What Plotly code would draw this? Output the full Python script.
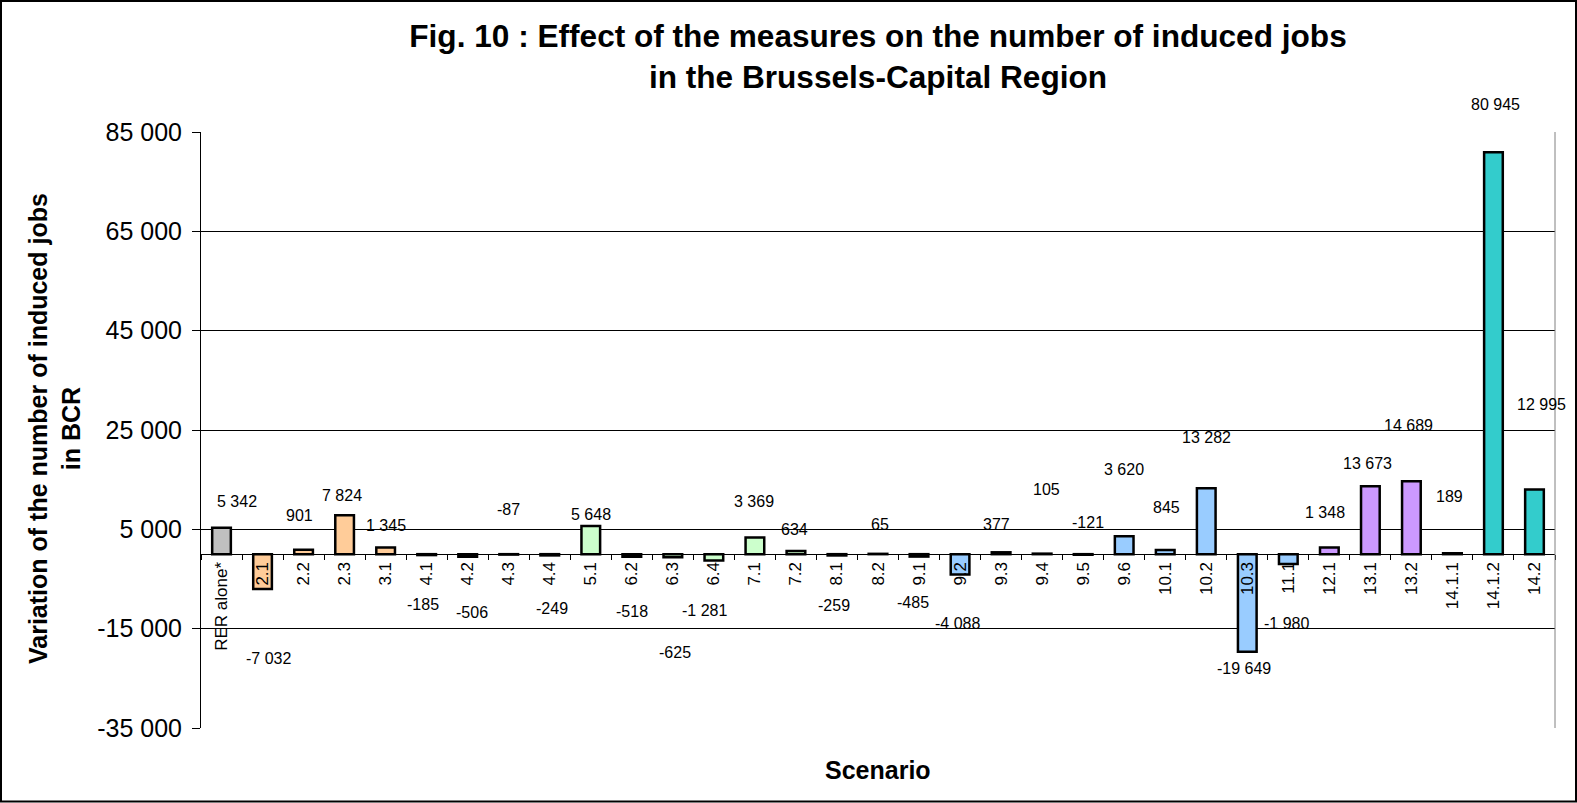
import plotly.graph_objects as go

# Scenarios and their effect on induced jobs in the Brussels-Capital Region
scenarios = ["RER alone*", "2.1", "2.2", "2.3", "3.1", "4.1", "4.2", "4.3", "4.4",
             "5.1", "6.2", "6.3", "6.4", "7.1", "7.2", "8.1", "8.2", "9.1", "9.2",
             "9.3", "9.4", "9.5", "9.6", "10.1", "10.2", "10.3", "11.1", "12.1",
             "13.1", "13.2", "14.1.1", "14.1.2", "14.2"]
jobs = [5342, -7032, 901, 7824, 1345, -185, -506, -87, -249,
        5648, -518, -625, -1281, 3369, 634, -259, 65, -485, -4088,
        377, 105, -121, 3620, 845, 13282, -19649, -1980, 1348,
        13673, 14689, 189, 80945, 12995]

# Fill colour per measure family
family_colors = {
    "ref": "#C0C0C0", "2": "#FFCC99", "3": "#FFCC99", "4": "#FFCC99",
    "5": "#CCFFCC", "6": "#CCFFCC", "7": "#CCFFCC",
    "8": "#99CCFF", "9": "#99CCFF", "10": "#99CCFF", "11": "#99CCFF",
    "12": "#CC99FF", "13": "#CC99FF", "14": "#33CCCC",
}

# Value-label nudges (pixels, relative to the bar end)
label_dx = [15, 6, -4, -3, 0, -4, 4, 0, 2, 0, 0, 2, -9, -1, -1, -3, 2, -6, -3,
            -5, 4, 5, 0, 1, 0, -3, -2, -4, -3, -3, -3, 2, 7]
label_dy = [-26, 69, -34, -20, -22, 49, 56, -45, 53, -12, 55, 95, 50, -36, -22,
            50, -29, 46, 49, -28, -64, -32, -67, -42, -51, 17, 59, -35, -23,
            -56, -57, -48, -85]

y_ticks = [-35000, -15000, 5000, 25000, 45000, 65000, 85000]


def fmt(v):
    return f"{v:,}".replace(",", " ")


def family(s):
    return "ref" if s.startswith("RER") else s.split(".")[0]


colors = [family_colors[family(s)] for s in scenarios]

FONT = "Liberation Sans, Arial, sans-serif"

fig = go.Figure(go.Bar(
    x=scenarios, y=jobs,
    marker=dict(color=colors, line=dict(color="black", width=2.5)),
    hoverinfo="x+y",
))

# Category positions are addressed by index so labels like "2.1" stay on their bar
annotations = []
for i, (v, dx, dy) in enumerate(zip(jobs, label_dx, label_dy)):
    annotations.append(dict(
        x=i, y=v, xref="x", yref="y", text=fmt(v), showarrow=False,
        xshift=dx, yshift=-dy, font=dict(size=16, color="black", family=FONT),
    ))

# Plot-area geometry (pixels) used for positioning text outside the axes
L, R, T, B = 201, 22, 132, 75
W, H = 1577 - L - R, 803 - T - B

annotations += [
    dict(text="<b>Variation of the number of induced jobs<br>in BCR</b>",
         xref="paper", yref="paper", x=(54 - L) / W, y=(803 - B - 429) / H,
         textangle=-90, showarrow=False, xanchor="center", yanchor="middle",
         font=dict(size=25, color="black", family=FONT)),
    dict(text="<b>Scenario</b>", xref="paper", yref="paper",
         x=(878 - L) / W, y=(803 - B - 770) / H, showarrow=False,
         xanchor="center", yanchor="middle",
         font=dict(size=25, color="black", family=FONT)),
]

shapes = [
    # right edge of the plot area
    dict(type="line", xref="paper", yref="paper", x0=1, x1=1, y0=0, y1=1,
         line=dict(color="#808080", width=1)),
    # frame around the whole chart
    dict(type="rect", xref="paper", yref="paper",
         x0=(1 - L) / W, x1=(1576 - L) / W,
         y0=(803 - B - 801.5) / H, y1=(803 - B - 1) / H,
         line=dict(color="black", width=2)),
]

fig.update_layout(
    width=1577, height=803,
    margin=dict(l=L, r=R, t=T, b=B),
    paper_bgcolor="white", plot_bgcolor="white",
    showlegend=False, bargap=0.545,
    font=dict(family=FONT, color="black"),
    title=dict(
        text="<b>Fig. 10 : Effect of the measures on the number of induced jobs<br>"
             "in the Brussels-Capital Region</b>",
        x=878 / 1577, xref="container", xanchor="center",
        y=1 - 47 / 803, yref="container", yanchor="middle",
        font=dict(size=31.6, color="black", family=FONT),
    ),
    xaxis=dict(
        type="category", categoryorder="array", categoryarray=scenarios,
        range=[-0.5, len(scenarios) - 0.5],
        anchor="free", position=(0 - y_ticks[0]) / (y_ticks[-1] - y_ticks[0]),
        showline=True, linecolor="black", linewidth=1,
        ticks="outside", tickson="boundaries", ticklen=5, tickcolor="black",
        tickangle=-90, tickfont=dict(size=17, color="black", family=FONT),
        showgrid=False, zeroline=False,
    ),
    yaxis=dict(
        range=[y_ticks[0], y_ticks[-1]],
        tickvals=y_ticks, ticktext=[fmt(v) for v in y_ticks],
        tickfont=dict(size=25, color="black", family=FONT),
        showgrid=True, gridcolor="black", gridwidth=1,
        showline=True, linecolor="black", linewidth=1,
        ticks="outside", ticklen=8, tickcolor="black",
        ticklabelstandoff=5, zeroline=False,
    ),
    annotations=annotations,
    shapes=shapes,
)

fig.write_html("out.html")
